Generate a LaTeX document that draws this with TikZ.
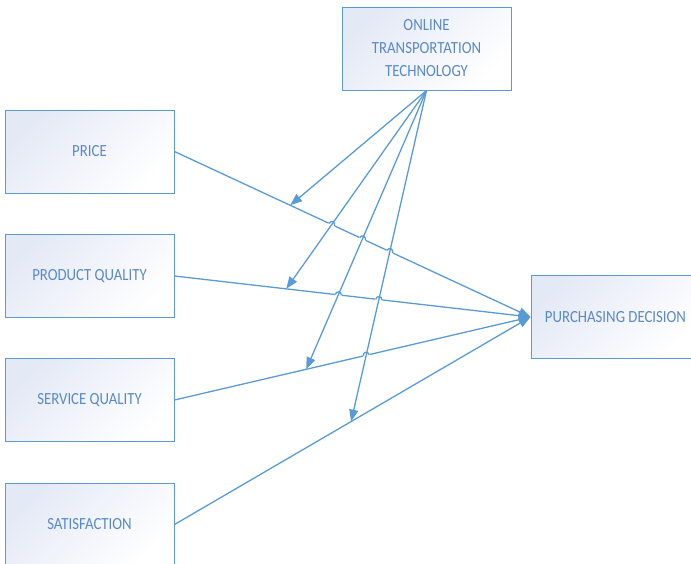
\documentclass[tikz,border=0pt]{standalone}
\usepackage{fontspec}
\setmainfont[FakeStretch=0.87]{Carlito}
\usetikzlibrary{arrows.meta,calc,intersections}
\definecolor{edge}{HTML}{5B9BD5}
\definecolor{txt}{HTML}{5A8AC6}
\definecolor{fillA}{HTML}{E4E9F6}
% small bump where a line jumps over a crossing one: #1 point, #2 line angle
\newcommand\hopat[2]{%
  \draw[white,line width=3.4pt] ($(#1)+(#2+180:3.4)$) -- ($(#1)+(#2:3.4)$);
  \draw[edge,line width=1.3pt] ($(#1)+(#2+180:3)$) arc[start angle=#2+180, end angle=#2, radius=3];}
\begin{document}
\begin{tikzpicture}[x=1pt,y=1pt,
  box/.style={draw=edge, line width=1pt, top color=fillA, bottom color=white,
    shading angle=45, minimum width=169pt, minimum height=83pt, inner sep=0pt,
    text=txt, font=\fontsize{17}{23}\selectfont, align=center},
  link/.style={draw=edge, line width=1.3pt, -{Triangle[length=12pt,width=9pt]}}]
\useasboundingbox (0,0) rectangle (691,-563);
\clip (0,0) rectangle (691,-563);

% boxes
\node[box] (on)    at (426.5,-48.5) {ONLINE\\TRANSPORTATION\\TECHNOLOGY};
\node[box] (price) at (89.5,-151.5) {PRICE};
\node[box] (pq)    at (89.5,-276)   {PRODUCT QUALITY};
\node[box] (sq)    at (89.5,-400)   {SERVICE QUALITY};
\node[box] (sat)   at (89.5,-524.5) {SATISFACTION};
\node[box] (pd)    at (615.5,-317)  {PURCHASING DECISION};

% direct effects
\draw[link, name path=lp] (price.east) -- (pd.west);
\draw[link, name path=lq] (pq.east) -- (pd.west);
\draw[link, name path=ls] (sq.east) -- (pd.west);
\draw[link] (sat.east) -- (pd.west);

% moderating effects end on the direct-effect lines
\coordinate (t1) at ($(price.east)!0.325!(pd.west)$);
\coordinate (t2) at ($(pq.east)!0.314!(pd.west)$);
\coordinate (t3) at ($(sq.east)!0.37!(pd.west)$);
\coordinate (t4) at ($(sat.east)!0.496!(pd.west)$);
\path[name path=s2] (on.south) -- (t2);
\path[name path=s3] (on.south) -- (t3);
\path[name path=s4] (on.south) -- (t4);

\path[name intersections={of=lp and s2, by=x12}];
\path[name intersections={of=lp and s3, by=x13}];
\path[name intersections={of=lp and s4, by=x14}];
\path[name intersections={of=lq and s3, by=x23}];
\path[name intersections={of=lq and s4, by=x24}];
\path[name intersections={of=ls and s4, by=x34}];
\hopat{x12}{-24.87}
\hopat{x13}{-24.87}
\hopat{x14}{-24.87}
\hopat{x23}{-6.55}
\hopat{x24}{-6.55}
\hopat{x34}{13.09}

\draw[link] (on.south) -- (t1);
\draw[link] (on.south) -- (t2);
\draw[link] (on.south) -- (t3);
\draw[link] (on.south) -- (t4);
\end{tikzpicture}
\end{document}
